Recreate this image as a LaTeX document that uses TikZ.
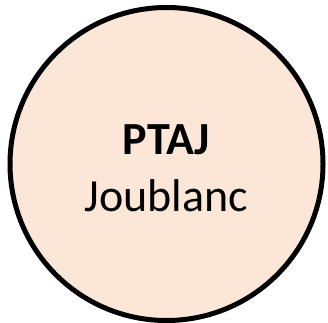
\documentclass[tikz,border=0pt]{standalone}
\usepackage{fontspec}
\setmainfont{Carlito}
\usetikzlibrary{positioning}
\begin{document}
\begin{tikzpicture}[x=1pt, y=1pt]
    \definecolor{peachfill}{RGB}{252,230,215}
    \tikzset{unitcircle/.style={circle, draw=black, line width=5pt, fill=peachfill,
        minimum size=313pt, inner sep=0pt, align=center,
        font=\fontsize{46}{57}\selectfont}}
    \useasboundingbox (0,0) rectangle (328,322);
    % circle with its two labels
    \node[unitcircle] (ptaj) at (166.5,158) {\rule{0pt}{38pt}\textbf{PTAJ}\\Joublanc};
\end{tikzpicture}
\end{document}
